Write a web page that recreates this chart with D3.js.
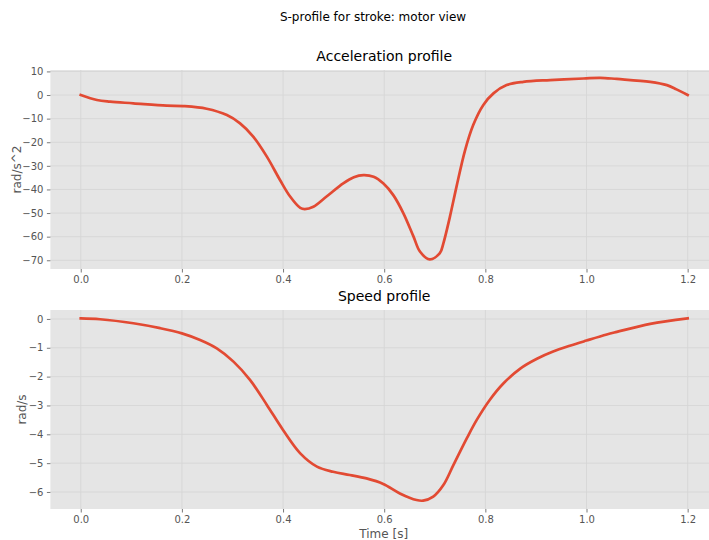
<!DOCTYPE html>
<html>
<head>
<meta charset="utf-8">
<script src="https://cdn.jsdelivr.net/npm/d3@7"></script>
<style>
  html, body { margin: 0; padding: 0; background: #fff; overflow: hidden; }
  svg { display: block; font-family: "DejaVu Sans", sans-serif; }
</style>
</head>
<body>
<svg id="chart" width="709" height="540"></svg>
<script>
// Acceleration samples: time [s] and rad/s^2
const accTime = [0, 0.032, 0.058, 0.104, 0.17, 0.203, 0.249, 0.289, 0.315, 0.341, 0.368, 0.394, 0.414, 0.434, 0.443, 0.46, 0.486, 0.519, 0.54, 0.559, 0.579, 0.598, 0.618, 0.638, 0.658, 0.671, 0.69, 0.71, 0.717, 0.73, 0.743, 0.76, 0.776, 0.796, 0.816, 0.842, 0.875, 0.928, 0.994, 1.027, 1.06, 1.126, 1.159, 1.178, 1.2];
const accValues = [0, -2.1, -2.8, -3.5, -4.5, -4.7, -5.8, -8.5, -12, -17.6, -26.1, -36, -43, -47.8, -48.3, -47.3, -43, -37.4, -34.8, -33.9, -34.6, -37.4, -42.4, -50.1, -60, -66.4, -69.6, -67, -62.8, -51.5, -38.8, -23.3, -12.7, -4.2, 0.7, 4.2, 5.6, 6.35, 7.0, 7.3, 6.8, 5.6, 4.2, 2.4, 0];

// Speed samples: time [s] and rad/s
const speedTime = [0, 0.038, 0.104, 0.157, 0.2, 0.236, 0.269, 0.302, 0.335, 0.368, 0.4, 0.434, 0.467, 0.499, 0.532, 0.565, 0.598, 0.631, 0.664, 0.677, 0.697, 0.717, 0.737, 0.763, 0.783, 0.809, 0.836, 0.869, 0.902, 0.934, 0.967, 1.0, 1.04, 1.06, 1.126, 1.2];
const speedValues = [0.02, -0.01, -0.15, -0.32, -0.5, -0.73, -1.02, -1.48, -2.12, -2.98, -3.85, -4.66, -5.12, -5.3, -5.41, -5.53, -5.72, -6.05, -6.28, -6.3, -6.16, -5.76, -5.06, -4.15, -3.5, -2.8, -2.23, -1.72, -1.38, -1.13, -0.93, -0.75, -0.54, -0.45, -0.17, 0.02];

const xTicks = [0, 0.2, 0.4, 0.6, 0.8, 1.0, 1.2];
const accTicks = [10, 0, -10, -20, -30, -40, -50, -60, -70];
const speedTicks = [0, -1, -2, -3, -4, -5, -6];

const lineColor = "#E24A33";
const svg = d3.select("#chart");

svg.append("text")
  .attr("x", 373).attr("y", 21)
  .attr("text-anchor", "middle")
  .attr("font-size", 12).attr("fill", "#000")
  .text("S-profile for stroke: motor view");

const left = 50.4, right = 718;
const x = d3.scaleLinear().domain([-0.06, 1.26]).range([left, right]);

function panel(opts) {
  const { top, bottom, yDomain, ticks, times, values, title, ylabel, ylabelX } = opts;
  const y = d3.scaleLinear().domain(yDomain).range([bottom, top]);
  const g = svg.append("g");

  g.append("rect")
    .attr("x", left).attr("y", top)
    .attr("width", right - left).attr("height", bottom - top)
    .attr("fill", "#E5E5E5");

  // grid
  g.append("g").selectAll("line").data(xTicks).join("line")
    .attr("x1", d => x(d)).attr("x2", d => x(d))
    .attr("y1", top).attr("y2", bottom)
    .attr("stroke", "#d6d6d6").attr("stroke-width", 0.9);
  g.append("g").selectAll("line").data(ticks).join("line")
    .attr("x1", left).attr("x2", right)
    .attr("y1", d => y(d)).attr("y2", d => y(d))
    .attr("stroke", "#d6d6d6").attr("stroke-width", 0.9);

  // axes
  const xAxis = d3.axisBottom(x).tickValues(xTicks).tickFormat(d3.format(".1f"))
    .tickSize(3.5).tickPadding(3.5);
  const xa = g.append("g").attr("transform", `translate(0,${bottom})`).call(xAxis);
  const yAxis = d3.axisLeft(y).tickValues(ticks)
    .tickFormat(d => d < 0 ? "\u2212" + Math.abs(d) : String(d))
    .tickSize(3.5).tickPadding(3.5);
  const ya = g.append("g").attr("transform", `translate(${left},0)`).call(yAxis);
  [xa, ya].forEach(a => {
    a.select(".domain").remove();
    a.selectAll(".tick line").attr("stroke", "#555").attr("stroke-width", 0.8);
    a.selectAll(".tick text").attr("fill", "#555").attr("font-size", 10)
      .attr("font-family", "DejaVu Sans, sans-serif");
  });

  const line = d3.line()
    .x((d, i) => x(times[i]))
    .y(d => y(d))
    .curve(d3.curveCatmullRom.alpha(0.5));
  g.append("path")
    .datum(values)
    .attr("d", line)
    .attr("fill", "none")
    .attr("stroke", lineColor)
    .attr("stroke-width", 2.7)
    .attr("stroke-linejoin", "round")
    .attr("stroke-linecap", "square");

  g.append("text")
    .attr("x", (left + right) / 2).attr("y", top - 9)
    .attr("text-anchor", "middle")
    .attr("font-size", 14).attr("fill", "#000")
    .text(title);

  g.append("text")
    .attr("transform", `translate(${ylabelX},${(top + bottom) / 2}) rotate(-90)`)
    .attr("text-anchor", "middle")
    .attr("font-size", 12).attr("fill", "#555")
    .text(ylabel);
}

panel({
  top: 70, bottom: 269, yDomain: [-73.7, 10.6], ticks: accTicks,
  times: accTime, values: accValues,
  title: "Acceleration profile", ylabel: "rad/s^2", ylabelX: 21
});

panel({
  top: 310, bottom: 509, yDomain: [-6.59, 0.31], ticks: speedTicks,
  times: speedTime, values: speedValues,
  title: "Speed profile", ylabel: "rad/s", ylabelX: 26
});

svg.append("text")
  .attr("x", (left + right) / 2 - 0.5).attr("y", 538)
  .attr("text-anchor", "middle")
  .attr("font-size", 12).attr("fill", "#555")
  .text("Time [s]");
</script>
</body>
</html>
